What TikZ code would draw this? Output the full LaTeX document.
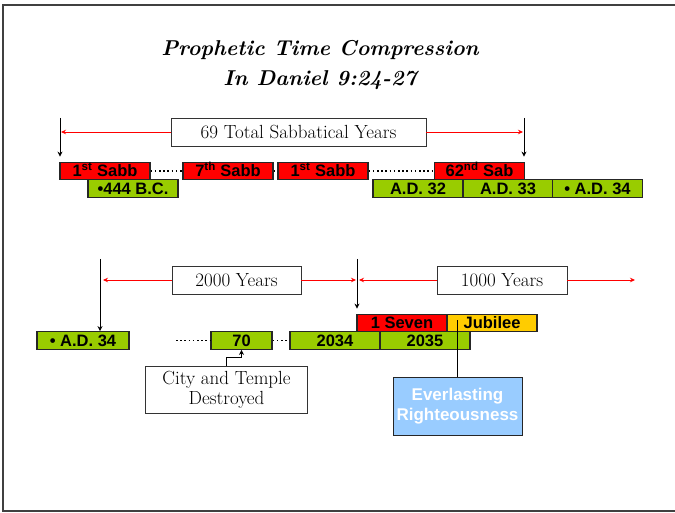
\documentclass[tikz,border=0pt]{standalone}
\usepackage{fontspec}
\newfontfamily\lab{Liberation Sans}
\usetikzlibrary{calc,arrows.meta}
\definecolor{rd}{HTML}{FF0000}
\definecolor{gr}{HTML}{99CC00}
\definecolor{jb}{HTML}{FFCC00}
\definecolor{bl}{HTML}{99CCFF}
\begin{document}
\begin{tikzpicture}[x=1pt,y=-1pt,
  yr/.style={draw=black!85, line width=1.3pt, inner sep=0pt, minimum height=17.5pt,
    text height=11.5pt, text depth=0pt, font=\lab\bfseries\fontsize{16.5}{17}\selectfont},
  redbox/.style={yr, fill=rd, minimum width=90pt},
  grbox/.style={yr, fill=gr, minimum width=90pt},
  jubbox/.style={yr, fill=jb, minimum width=90pt},
  lbl/.style={draw=black!80, line width=0.9pt, fill=white, inner sep=1pt,
    font=\fontsize{19}{20}\selectfont, align=center},
  blk/.style={draw=black, line width=0.8pt, -{Stealth[length=5pt,width=5pt]}},
  ra/.style={draw=rd, line width=0.8pt, -{Stealth[length=5pt,width=4.5pt]}},
  dots/.style={draw=black, line width=1.6pt, dash pattern=on 1.6pt off 2.6pt},
]
\useasboundingbox (0,0) rectangle (675,513);
\clip (0,0) rectangle (675,513);
\fill[white] (0,0) rectangle (675,513);
\draw[line width=1.5pt, black!75] (3,5) rectangle (700,511);

% title
\node[font=\bfseries\itshape\fontsize{21.5}{30}\selectfont, align=center] (title) at (320,65)
  {Prophetic Time Compression\\In Daniel 9:24-27};

% top rows
\node[redbox] (s1)  at (105,171) {1\textsuperscript{st} Sabb};
\node[redbox] (s7)  at (228,171) {7\textsuperscript{th} Sabb};
\node[redbox] (s1b) at (323,171) {1\textsuperscript{st} Sabb};
\node[redbox] (s62) at (479.5,171) {62\textsuperscript{nd} Sab};
\node[grbox] (g444) at (133,188.5) {\textbullet444 B.C.};
\node[grbox] (g32) at (418,188.5) {A.D. 32};
\node[grbox] (g33) at (508,188.5) {A.D. 33};
\node[grbox] (g34) at (597.5,188.5) {\textbullet{} A.D. 34};

\draw[dots] (s1.east) -- (s7.west);
\draw[dots] (s7.east) -- (s1b.west);
\draw[dots] (s1b.east) -- (s62.west);

\node[lbl, minimum width=255pt, minimum height=28pt] (tot) at (298.5,132) {69 Total Sabbatical Years};
\coordinate (t1) at (60,118);
\coordinate (t2) at (524,118);
\draw[blk, shorten >=5pt] (t1) -- (t1 |- s1.north);
\draw[blk, shorten >=5pt] (t2) -- (t2 |- s62.north);
\draw[ra, shorten >=1pt] (tot.west) -- (tot.west -| t1);
\draw[ra, shorten >=1pt] (tot.east) -- (tot.east -| t2);

% bottom rows
\node[redbox] (sev) at (402,323) {1 Seven};
\node[jubbox] (jub) at (492,323) {Jubilee};
\node[grbox, minimum width=92pt] (ad34) at (83,340.5) {\textbullet{} A.D. 34};
\node[grbox, minimum width=61pt] (n70) at (241.5,340.5) {70};
\node[grbox] (n2034) at (335,340.5) {2034};
\node[grbox] (n2035) at (425,340.5) {2035};

\coordinate (d1) at (176,340.5);
\draw[dots] (d1) -- (n70.west);
\draw[dots] (n70.east) -- (n2034.west);

\node[lbl, minimum width=129pt, minimum height=28pt] (y2000) at (236.5,280) {2000 Years};
\node[lbl, minimum width=130pt, minimum height=28pt] (y1000) at (502,280) {1000 Years};
\coordinate (b1) at (100,259);
\coordinate (b2) at (357,259);
\coordinate (b3) at (635,280);
\draw[blk] (b1) -- (b1 |- ad34.north);
\draw[blk, shorten >=5pt] (b2) -- (b2 |- sev.north);
\draw[ra, shorten >=3pt] (y2000.west) -- (y2000.west -| b1);
\draw[ra, shorten >=1pt] (y2000.east) -- (y2000.east -| b2);
\draw[ra, shorten >=2pt] (y1000.west) -- (y1000.west -| b2);
\draw[ra] (y1000.east) -- (b3);

% callouts
\node[lbl, minimum width=162pt, minimum height=47pt] (city) at (226.5,389.5)
  {City and Temple\\Destroyed};
\draw[blk] (city.north) |- ($(city.north)!.5!(n70.south)$) -| (n70.south);

\node[draw=black!85, line width=1pt, fill=bl, minimum width=129pt, minimum height=58pt,
  text=white, align=center, font=\lab\bfseries\fontsize{17}{20.5}\selectfont] (ever) at (457.5,406)
  {Everlasting\\Righteousness};
\draw[line width=0.8pt] (ever.north) -- ($(ever.north |- jub.center)+(0,-3)$);
\end{tikzpicture}
\end{document}
